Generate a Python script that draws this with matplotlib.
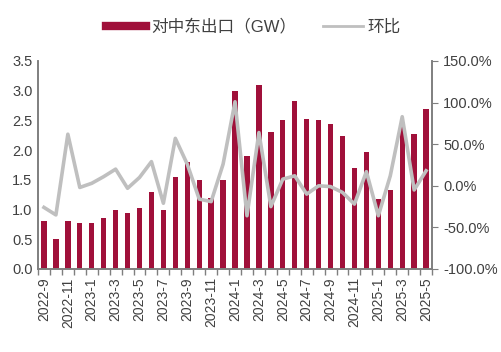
import matplotlib
matplotlib.use('Agg')
from matplotlib import pyplot as plt
from matplotlib.lines import Line2D
from matplotlib.ticker import FuncFormatter, FixedLocator

plt.rcParams['font.family'] = ['Liberation Sans', 'Noto Sans CJK SC', 'DejaVu Sans']

# 月份
months = ['2022-9', '2022-10', '2022-11', '2022-12',
          '2023-1', '2023-2', '2023-3', '2023-4', '2023-5', '2023-6',
          '2023-7', '2023-8', '2023-9', '2023-10', '2023-11', '2023-12',
          '2024-1', '2024-2', '2024-3', '2024-4', '2024-5', '2024-6',
          '2024-7', '2024-8', '2024-9', '2024-10', '2024-11', '2024-12',
          '2025-1', '2025-2', '2025-3', '2025-4', '2025-5']
# 对中东出口（GW）
export_gw = [0.80, 0.50, 0.80, 0.77, 0.77, 0.85, 1.00, 0.95, 1.02, 1.30,
             1.00, 1.55, 1.80, 1.50, 1.20, 1.50, 3.00, 1.90, 3.10, 2.30,
             2.50, 2.82, 2.52, 2.50, 2.44, 2.24, 1.70, 1.97, 1.18, 1.33,
             2.43, 2.27, 2.69]
# 环比（%）
mom_pct = [-26, -35, 62, -2, 3, 11, 20, -3, 10, 29,
           -21, 57, 26, -16, -19, 26, 101, -36, 64, -25,
           8, 12, -10, 0, -1, -8, -22, 17, -36, 12,
           83, -5, 18]

bar_color = '#A0103A'
line_color = '#BFBFBF'
axis_color = '#7F7F7F'

fig = plt.figure(figsize=(5.02, 3.52), dpi=100)
ax = fig.add_axes([0.0757, 0.2358, 0.785, 0.591])
ax2 = ax.twinx()

x = list(range(len(months)))
ax.bar(x, export_gw, width=0.45, color=bar_color, zorder=2)
ax2.plot(x, mom_pct, color=line_color, lw=2.6, zorder=3)

ax.set_xlim(-0.5, len(months) - 0.5)
ax.set_ylim(0, 3.5)
ax.set_yticks([i * 0.5 for i in range(8)])
ax.yaxis.set_major_formatter(FuncFormatter(lambda v, p: f'{v:.1f}'))
ax2.set_ylim(-100, 150)
ax2.set_yticks(range(-100, 151, 50))
ax2.yaxis.set_major_formatter(FuncFormatter(lambda v, p: f'{v:.1f}%'))

# x 轴：每两个月一个标签，刻度线在柱子之间
ax.set_xticks(x[::2])
ax.set_xticklabels(months[::2], rotation=90)
ax.xaxis.set_minor_locator(FixedLocator([i - 0.5 for i in range(len(months) + 1)]))
ax.tick_params(axis='x', which='major', length=0, pad=6, labelsize=10, labelcolor='#404040')
ax.tick_params(axis='x', which='minor', length=4, color=axis_color, width=1)
ax.tick_params(axis='y', length=0, labelsize=10.5, labelcolor='#404040', pad=4)
ax2.tick_params(axis='y', length=4, direction='out', color=axis_color,
                labelsize=10.5, labelcolor='#404040', pad=4)

for a in (ax, ax2):
    a.spines['top'].set_visible(False)
    for s in ('left', 'right', 'bottom'):
        a.spines[s].set_color(axis_color)
        a.spines[s].set_linewidth(1.2)

handles = [Line2D([0], [0], color=bar_color, lw=6),
           Line2D([0], [0], color=line_color, lw=2)]
fig.legend(handles, ['对中东出口（GW）', '环比'], loc='center', ncol=2,
           bbox_to_anchor=(0.505, 0.925), frameon=False, fontsize=12,
           handlelength=2.4, columnspacing=1.6, handletextpad=0.3,
           labelcolor='#404040')

plt.savefig('out.png', dpi=100)
